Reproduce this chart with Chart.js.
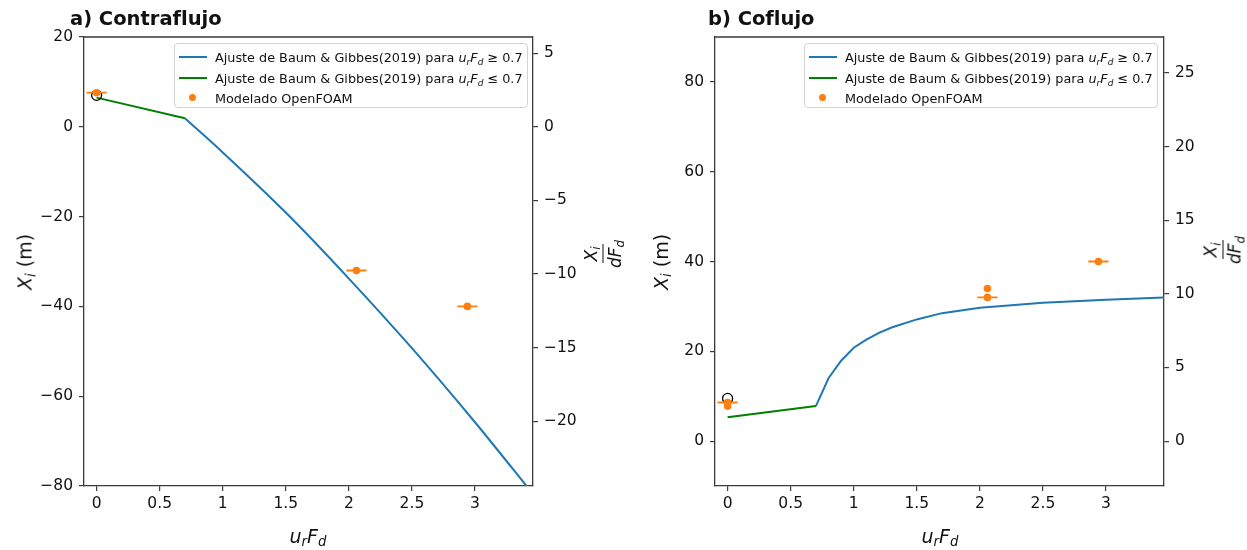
<!DOCTYPE html>
<html lang="es">
<head>
<meta charset="UTF-8">
<title>Contraflujo / Coflujo</title>
<script src="https://cdn.jsdelivr.net/npm/chart.js"></script>
<style>
  body { margin: 0; background: #fff; font-family: "DejaVu Sans", sans-serif; color: #111; }
  #fig { position: relative; width: 1247px; height: 550px; overflow: hidden; }
  canvas { position: absolute; top: 0; }
  .txt { position: absolute; white-space: nowrap; line-height: 1; }
  .centro { transform: translate(-50%, -50%); }
  .rot { transform: translate(-50%, -50%) rotate(-90deg); }
  .titulo { font-weight: bold; font-size: 19.5px; top: 9px; }
  .eje { font-size: 19px; }
  sub { font-size: 70%; vertical-align: -0.3em; line-height: 0; }
  .frac { display: inline-flex; flex-direction: column; align-items: center; font-size: 17px; }
  .frac .num { padding: 0 2px 3px; border-bottom: 1px solid #111; }
  .frac .den { padding: 3px 2px 0; }
  .leyenda { position: absolute; top: 43px; width: 354px; height: 65px; box-sizing: border-box;
             border: 1px solid #d3d3d3; border-radius: 4px; background: rgba(255,255,255,0.85); font-size: 12.8px; }
  .fila { position: absolute; left: 0; height: 20px; width: 100%; }
  .muestra { position: absolute; left: 4px; width: 28px; top: 9px; height: 2px; }
  .punto { position: absolute; left: 14px; top: 6px; width: 7px; height: 7px; border-radius: 50%; background: #ff7f0e; }
  .etiqueta { position: absolute; left: 40px; top: 3px; white-space: nowrap; }
</style>
</head>
<body>
<div id="fig">
  <canvas id="grafA" width="623" height="550" style="left:0"></canvas>
  <canvas id="grafB" width="624" height="550" style="left:623px"></canvas>

  <div class="txt titulo" style="left:70px">a) Contraflujo</div>
  <div class="txt titulo" style="left:708px">b) Coflujo</div>

  <div class="txt eje rot" style="left:25px; top:262px"><i>X<sub>i</sub></i> (m)</div>
  <div class="txt eje rot" style="left:661px; top:262px"><i>X<sub>i</sub></i> (m)</div>
  <div class="txt eje centro" style="left:308px; top:536px"><i>u<sub>r</sub>F<sub>d</sub></i></div>
  <div class="txt eje centro" style="left:940px; top:536px"><i>u<sub>r</sub>F<sub>d</sub></i></div>

  <div class="txt rot" style="left:603px; top:254px">
    <span class="frac"><span class="num"><i>X<sub>i</sub></i></span><span class="den"><i>dF<sub>d</sub></i></span></span>
  </div>
  <div class="txt rot" style="left:1223px; top:250px">
    <span class="frac"><span class="num"><i>X<sub>i</sub></i></span><span class="den"><i>dF<sub>d</sub></i></span></span>
  </div>

  <div class="leyenda" id="leyendaA" style="left:174px"></div>
  <div class="leyenda" id="leyendaB" style="left:804px"></div>
</div>

<script>
// ejes
const xTicks = [0, 0.5, 1, 1.5, 2, 2.5, 3];
const yTicksA = [-80, -60, -40, -20, 0, 20];
const y2TicksA = [-20, -15, -10, -5, 0, 5];
const yTicksB = [0, 20, 40, 60, 80];
const y2TicksB = [0, 5, 10, 15, 20, 25];
const FACTOR_DERECHO = 3.28; // eje derecho = Xi / (d*Fd)

// a) Contraflujo
const ajusteAltoA_x = [0.7, 1.0, 1.5, 2.0, 2.5, 3.0, 3.46];
const ajusteAltoA_y = [1.9, -5.7, -19.1, -33.8, -49.3, -65.8, -81.8];
const ajusteBajoA_x = [0, 0.7];
const ajusteBajoA_y = [6.5, 1.9];
const modeloA_x = [0, 2.06, 2.94];
const modeloA_y = [7.6, -32, -40];
const modeloA_err = [0.08, 0.08, 0.08];
const circuloA_x = [0];
const circuloA_y = [7.0];

// b) Coflujo
const ajusteAltoB_x = [0.7, 0.8, 0.9, 1.0, 1.1, 1.2, 1.3, 1.5, 1.7, 2.0, 2.5, 3.0, 3.46];
const ajusteAltoB_y = [7.8, 14.0, 17.9, 20.8, 22.6, 24.1, 25.3, 27.1, 28.5, 29.7, 30.8, 31.5, 32.0];
const ajusteBajoB_x = [0, 0.7];
const ajusteBajoB_y = [5.3, 7.8];
const modeloB_x = [0, 0, 2.06, 2.06, 2.94];
const modeloB_y = [8.6, 7.8, 34.0, 32.0, 40.0];
const modeloB_err = [0.08, 0, 0, 0.08, 0.08];
const circuloB_x = [0];
const circuloB_y = [9.5];

const etiquetas = [
  'Ajuste de Baum &amp; Gibbes(2019) para <i>u<sub>r</sub>F<sub>d</sub></i> ≥ 0.7',
  'Ajuste de Baum &amp; Gibbes(2019) para <i>u<sub>r</sub>F<sub>d</sub></i> ≤ 0.7',
  'Modelado OpenFOAM'
];

const AZUL = '#1f77b4', VERDE = '#008000', NARANJA = '#ff7f0e', EJE = '#3a3a3a';

function puntos(xs, ys) {
  return xs.map((x, i) => ({ x: x, y: ys[i] }));
}

// barras de error horizontales, separadas con null
function barrasError(xs, ys, errs) {
  const out = [];
  xs.forEach((x, i) => {
    if (!errs[i]) return;
    out.push({ x: x - errs[i], y: ys[i] }, { x: x + errs[i], y: ys[i] }, { x: x + errs[i], y: null });
  });
  return out;
}

function fmt(v) {
  return String(v).replace('-', '\u2212');
}

function ejeY(min, max, ticks, pos, ancho) {
  return {
    type: 'linear', position: pos, min: min, max: max,
    afterBuildTicks: a => { a.ticks = ticks.map(v => ({ value: v })); },
    afterFit: a => { a.width = ancho; },
    ticks: { color: '#111', padding: 6, font: { family: 'DejaVu Sans', size: 15.5 }, callback: fmt },
    grid: { drawOnChartArea: false, tickLength: 5, color: EJE, lineWidth: 1.2 },
    border: { color: EJE, width: 1.3 }
  };
}

const marcoSuperior = {
  id: 'marcoSuperior',
  afterDraw(chart) {
    const { ctx, chartArea: a } = chart;
    ctx.save();
    ctx.strokeStyle = EJE;
    ctx.lineWidth = 1.3;
    ctx.beginPath();
    ctx.moveTo(a.left, a.top);
    ctx.lineTo(a.right, a.top);
    ctx.stroke();
    ctx.restore();
  }
};

function crearGrafico(id, d) {
  new Chart(document.getElementById(id), {
    type: 'scatter',
    data: {
      datasets: [
        { label: 'modelo', data: puntos(d.mx, d.my), backgroundColor: NARANJA, borderWidth: 0, pointRadius: 3.8, order: 0 },
        { label: 'error', type: 'line', data: barrasError(d.mx, d.my, d.merr), borderColor: NARANJA, borderWidth: 1.8, pointRadius: 0, order: 1 },
        { label: 'circulo', data: puntos(d.cx, d.cy), backgroundColor: 'rgba(0,0,0,0)', borderColor: '#000', borderWidth: 1.3, pointRadius: 5, order: 2 },
        { label: 'bajo', type: 'line', data: puntos(d.bx, d.by), borderColor: VERDE, borderWidth: 2, pointRadius: 0, order: 3 },
        { label: 'alto', type: 'line', data: puntos(d.ax, d.ay), borderColor: AZUL, borderWidth: 2, pointRadius: 0, order: 4,
          cubicInterpolationMode: d.suave ? 'monotone' : 'default' }
      ]
    },
    options: {
      responsive: false,
      animation: false,
      events: [],
      layout: { padding: { top: 37, left: 0, right: 0, bottom: 0 } },
      plugins: { legend: { display: false }, tooltip: { enabled: false } },
      scales: {
        x: {
          type: 'linear', position: 'bottom', min: -0.1, max: 3.46,
          afterBuildTicks: a => { a.ticks = xTicks.map(v => ({ value: v })); },
          afterFit: a => { a.height = 64; },
          ticks: { color: '#111', padding: 4, maxRotation: 0, autoSkip: false, font: { family: 'DejaVu Sans', size: 15.5 }, callback: fmt },
          grid: { drawOnChartArea: false, tickLength: 5, color: EJE, lineWidth: 1.2 },
          border: { color: EJE, width: 1.3 }
        },
        y: ejeY(d.ymin, d.ymax, d.yt, 'left', d.anchoIzq),
        y2: ejeY(d.ymin / FACTOR_DERECHO, d.ymax / FACTOR_DERECHO, d.y2t, 'right', d.anchoDer)
      }
    },
    plugins: [marcoSuperior]
  });
}

function crearLeyenda(id) {
  const caja = document.getElementById(id);
  const muestras = [
    '<div class="muestra" style="background:' + AZUL + '"></div>',
    '<div class="muestra" style="background:' + VERDE + '"></div>',
    '<div class="punto"></div>'
  ];
  etiquetas.forEach((t, i) => {
    const fila = document.createElement('div');
    fila.className = 'fila';
    fila.style.top = (3 + i * 20.5) + 'px';
    fila.innerHTML = muestras[i] + '<span class="etiqueta">' + t + '</span>';
    caja.appendChild(fila);
  });
}

crearGrafico('grafA', {
  ax: ajusteAltoA_x, ay: ajusteAltoA_y, bx: ajusteBajoA_x, by: ajusteBajoA_y,
  mx: modeloA_x, my: modeloA_y, merr: modeloA_err, cx: circuloA_x, cy: circuloA_y,
  ymin: -80, ymax: 20, yt: yTicksA, y2t: y2TicksA, anchoIzq: 84, anchoDer: 90, suave: true
});
crearGrafico('grafB', {
  ax: ajusteAltoB_x, ay: ajusteAltoB_y, bx: ajusteBajoB_x, by: ajusteBajoB_y,
  mx: modeloB_x, my: modeloB_y, merr: modeloB_err, cx: circuloB_x, cy: circuloB_y,
  ymin: -10, ymax: 90, yt: yTicksB, y2t: y2TicksB, anchoIzq: 92, anchoDer: 83, suave: false
});
crearLeyenda('leyendaA');
crearLeyenda('leyendaB');
</script>
</body>
</html>
